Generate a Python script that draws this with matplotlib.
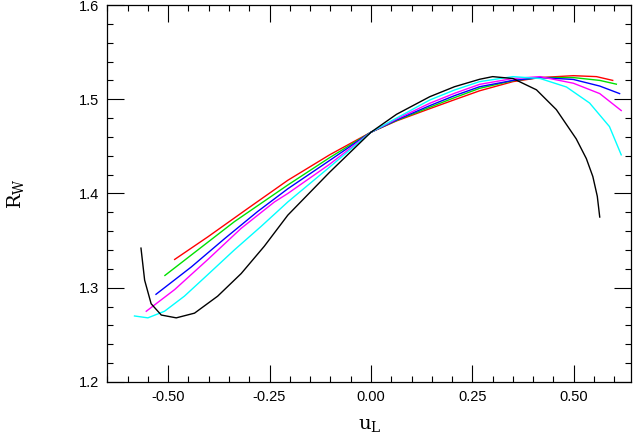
import numpy as np
import matplotlib
matplotlib.use("Agg")
import matplotlib.pyplot as plt
from matplotlib.ticker import MultipleLocator, FormatStrFormatter

# values
x_red = [-0.484, -0.402, -0.304, -0.205, -0.102, 0.0, 0.063, 0.145, 0.206, 0.268, 0.350, 0.417, 0.499, 0.556, 0.596]
y_red = [1.330, 1.354, 1.384, 1.414, 1.441, 1.465, 1.477, 1.490, 1.4995, 1.509, 1.5187, 1.523, 1.525, 1.524, 1.520]

x_green = [-0.508, -0.427, -0.337, -0.205, -0.102, 0.0, 0.063, 0.145, 0.206, 0.268, 0.350, 0.417, 0.499, 0.564, 0.605]
y_green = [1.313, 1.340, 1.370, 1.409, 1.438, 1.465, 1.4775, 1.4915, 1.5017, 1.5116, 1.5197, 1.523, 1.523, 1.520, 1.516]

x_blue = [-0.530, -0.443, -0.361, -0.279, -0.205, -0.102, 0.0, 0.063, 0.145, 0.206, 0.268, 0.350, 0.417, 0.499, 0.564, 0.613]
y_blue = [1.293, 1.322, 1.352, 1.381, 1.405, 1.435, 1.465, 1.478, 1.4932, 1.5038, 1.5133, 1.520, 1.523, 1.521, 1.514, 1.506]

x_mag = [-0.554, -0.484, -0.402, -0.320, -0.238, -0.205, -0.102, 0.0, 0.063, 0.145, 0.206, 0.268, 0.350, 0.417, 0.499, 0.564, 0.617]
y_mag = [1.275, 1.298, 1.330, 1.363, 1.391, 1.400, 1.431, 1.465, 1.479, 1.4957, 1.5063, 1.5158, 1.522, 1.524, 1.517, 1.506, 1.488]

x_cyan = [-0.583, -0.550, -0.509, -0.460, -0.402, -0.337, -0.271, -0.205, -0.102, 0.0, 0.063, 0.145, 0.206, 0.268, 0.350, 0.417, 0.482, 0.539, 0.588, 0.617]
y_cyan = [1.270, 1.268, 1.275, 1.291, 1.314, 1.340, 1.365, 1.391, 1.428, 1.465, 1.480, 1.4992, 1.5098, 1.5187, 1.524, 1.522, 1.513, 1.496, 1.471, 1.441]

x_black = [-0.567, -0.558, -0.542, -0.517, -0.480, -0.435, -0.378, -0.320, -0.263, -0.205, -0.102, 0.0, 0.063, 0.145, 0.206, 0.268, 0.300, 0.350, 0.408, 0.457, 0.506, 0.531, 0.547, 0.558, 0.564]
y_black = [1.342, 1.308, 1.283, 1.271, 1.268, 1.273, 1.291, 1.315, 1.344, 1.377, 1.4225, 1.465, 1.484, 1.5027, 1.5133, 1.5212, 1.524, 1.522, 1.510, 1.489, 1.458, 1.437, 1.418, 1.397, 1.375]

plt.rcParams['mathtext.fontset'] = 'dejavuserif'

fig = plt.figure(figsize=(6.35, 4.36), dpi=100)
ax = fig.add_axes([0.169, 0.124, 0.824, 0.8645])

ax.plot(x_red, y_red, color='red', lw=1.0)
ax.plot(x_green, y_green, color='#00e000', lw=1.0)
ax.plot(x_blue, y_blue, color='blue', lw=1.0)
ax.plot(x_mag, y_mag, color='magenta', lw=1.0)
ax.plot(x_cyan, y_cyan, color='cyan', lw=1.0)
ax.plot(x_black, y_black, color='black', lw=1.0)

ax.set_xlim(-0.65, 0.64)
ax.set_ylim(1.2, 1.6)
ax.xaxis.set_major_locator(MultipleLocator(0.25))
ax.xaxis.set_minor_locator(MultipleLocator(0.05))
ax.yaxis.set_major_locator(MultipleLocator(0.1))
ax.yaxis.set_minor_locator(MultipleLocator(0.02))
ax.xaxis.set_major_formatter(FormatStrFormatter('%.2f'))
ax.yaxis.set_major_formatter(FormatStrFormatter('%.1f'))

ax.tick_params(which='both', direction='in', top=True, right=True, width=0.8)
ax.tick_params(which='major', length=12, pad=6, labelsize=10.5)
ax.tick_params(which='minor', length=4.5)
for lab in ax.get_xticklabels() + ax.get_yticklabels():
    lab.set_fontfamily('Liberation Sans')
for s in ax.spines.values():
    s.set_linewidth(0.9)

ax.set_xlabel(r'$\mathrm{u_L}$', fontsize=14)
ax.set_ylabel(r'$\mathrm{R_W}$', fontsize=14)
ax.xaxis.set_label_coords(0.501, -0.088)
ax.yaxis.set_label_coords(-0.155, 0.5)

fig.savefig('out.png', dpi=100)
